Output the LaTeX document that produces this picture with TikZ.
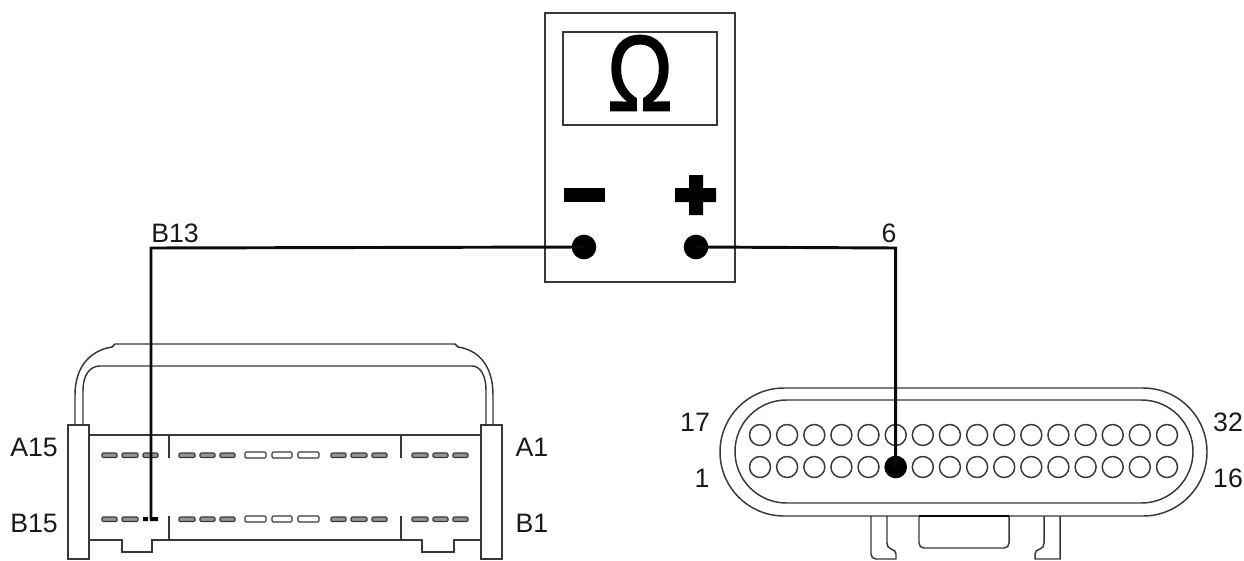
\documentclass[tikz,border=0pt]{standalone}
\usepackage{fontspec}
\setmainfont{Liberation Sans}
\newfontface\omegafont[FakeBold=1.6]{Liberation Sans}
\usepackage{tikz}
\definecolor{wireblk}{rgb}{0.04,0.04,0.04}
\definecolor{outline}{rgb}{0.22,0.22,0.22}
\definecolor{slotgrey}{rgb}{0.58,0.58,0.58}
\tikzset{
  outlineline/.style={color=outline,line width=1.1pt},
  wireline/.style={color=wireblk,line width=2.2pt},
  pinhole/.style={color=outline,line width=1.1pt,fill=white},
  slotnarrow/.style={color=outline,line width=0.8pt,fill=slotgrey,rounded corners=0.8pt},
  slotwide/.style={color=outline,line width=0.8pt,fill=white,rounded corners=0.8pt},
  pinlabel/.style={inner sep=0pt,font=\fontsize{20}{20}\selectfont,color=black!90},
  terminal/.style={circle,fill=black,inner sep=0pt,minimum size=18.5pt},
}

\begin{document}
\begin{tikzpicture}[x=0.75pt,y=0.75pt,yscale=-1,xscale=1]
\useasboundingbox (0,0) rectangle (1244,560);

%Shape: Meter housing
\draw [outlineline] (545,13) -- (735,13) -- (735,282) -- (545,282) -- cycle ;
%Shape: Meter display
\draw [outlineline] (563,32) -- (717,32) -- (717,125) -- (563,125) -- cycle ;
%Shape: Minus sign
\fill [black] (564,188) -- (605,188) -- (605,202) -- (564,202) -- cycle ;
%Shape: Plus sign
\fill [black] (689,175) -- (703,175) -- (703,188) -- (716,188) -- (716,202) -- (703,202) -- (703,215) -- (689,215) -- (689,202) -- (675,202) -- (675,188) -- (689,188) -- cycle ;

% Text Node
\draw (640,73) node (omegasign) [inner sep=0pt,font=\fontsize{66}{66}\omegafont,yscale=1.22] {Ω};

%Shape: Left connector strap
\draw [outlineline] (75,425) -- (75,395) .. controls (75,365) and (92,350) .. (112,347) -- (115,344) -- (455,344) -- (458,347) .. controls (478,350) and (493,365) .. (493,395) -- (493,425) ;
\draw [outlineline] (83,425) -- (83,390) .. controls (83,375) and (90,366) .. (100,366) -- (472,366) .. controls (480,366) and (486,375) .. (486,390) -- (486,425) ;
%Shape: Left connector end brackets
\draw [outlineline] (68,559) -- (68,425) -- (89,425) -- (89,559) -- cycle ;
\draw [outlineline] (481,559) -- (481,425) -- (502,425) -- (502,559) -- cycle ;
%Shape: Left connector body
\draw [outlineline] (89,435) -- (481,435) ;
\draw [outlineline] (89,540) -- (122,540) -- (122,552) -- (152,552) -- (152,540) -- (422,540) -- (422,552) -- (454,552) -- (454,540) -- (481,540) ;
\draw [outlineline] (169,435) -- (169,458) (169,516) -- (169,540) ;
\draw [outlineline] (401,435) -- (401,458) (401,516) -- (401,540) ;
%Shape: Slots row A
\draw [slotnarrow] (102,453) rectangle (117,457.5) (122,453) rectangle (138,457.5) (143,453) rectangle (158,457.5) (179,453) rectangle (195,457.5) (200,453) rectangle (215,457.5) (220,453) rectangle (235,457.5) (331,453) rectangle (346,457.5) (351,453) rectangle (367,457.5) (372,453) rectangle (387,457.5) (412,453) rectangle (428,457.5) (433,453) rectangle (448,457.5) (453,453) rectangle (468,457.5) ;
\draw [slotwide] (245,452) rectangle (266,458) (272,452) rectangle (292,458) (298,452) rectangle (319,458) ;
%Shape: Slots row B
\draw [slotnarrow] (102,517) rectangle (117,521.5) (122,517) rectangle (138,521.5) (179,517) rectangle (195,521.5) (200,517) rectangle (215,521.5) (220,517) rectangle (235,521.5) (331,517) rectangle (346,521.5) (351,517) rectangle (367,521.5) (372,517) rectangle (387,521.5) (412,517) rectangle (428,521.5) (433,517) rectangle (448,521.5) (453,517) rectangle (468,521.5) ;
\draw [slotwide] (245,516) rectangle (266,522) (272,516) rectangle (292,522) (298,516) rectangle (319,522) ;
\fill [black] (143,517) rectangle (148,521) (150,517) rectangle (158,521) ;

%Shape: Right connector shell
\draw [outlineline] (784,388) -- (1143,388) arc (-90:90:64) -- (784,516) arc (90:270:64) -- cycle ;
\draw [outlineline] (786.5,400) -- (1141.5,400) arc (-90:90:51.5) -- (786.5,503) arc (90:270:51.5) -- cycle ;
%Shape: Right connector pin rows
\draw [pinhole] (760,435) circle (10.5) (787.1,435) circle (10.5) (814.3,435) circle (10.5) (841.4,435) circle (10.5) (868.5,435) circle (10.5) (895.7,435) circle (10.5) (922.8,435) circle (10.5) (949.9,435) circle (10.5) (977.1,435) circle (10.5) (1004.2,435) circle (10.5) (1031.3,435) circle (10.5) (1058.4,435) circle (10.5) (1085.6,435) circle (10.5) (1112.7,435) circle (10.5) (1139.8,435) circle (10.5) (1167,435) circle (10.5) ;
\draw [pinhole] (760,467) circle (10.5) (787.1,467) circle (10.5) (814.3,467) circle (10.5) (841.4,467) circle (10.5) (868.5,467) circle (10.5) (922.8,467) circle (10.5) (949.9,467) circle (10.5) (977.1,467) circle (10.5) (1004.2,467) circle (10.5) (1031.3,467) circle (10.5) (1058.4,467) circle (10.5) (1085.6,467) circle (10.5) (1112.7,467) circle (10.5) (1139.8,467) circle (10.5) (1167,467) circle (10.5) ;
%Shape: Right connector latch
\draw [outlineline] (871,516) -- (871,554) .. controls (871,557) and (873,559) .. (876,559) -- (896,559) -- (896,554) .. controls (896,551) and (894,550) .. (891,549) .. controls (888,548) and (887,546) .. (887,543) -- (887,516) ;
\draw [outlineline] (1060,516) -- (1060,559) -- (1035,559) -- (1035,554) .. controls (1035,551) and (1037,550) .. (1040,549) .. controls (1043,548) and (1044,546) .. (1044,543) -- (1044,516) ;
\draw [outlineline] (919,516) -- (919,543) .. controls (919,546) and (921,548) .. (924,548) -- (1004,548) .. controls (1007,548) and (1009,546) .. (1009,543) -- (1009,516) ;
\draw [color=wireblk,line width=1.5pt] (919,516) -- (1009,516) ;

%Shape: Meter terminals and wire ends
\node (minusjack) [terminal] at (584,247) {};
\node (plusjack) [terminal] at (696,247) {};
\node (pinsix) [circle,fill=black,inner sep=0pt,minimum size=17pt] at (895.7,467) {};
\coordinate (slotbthirteen) at (151,519);
\coordinate (minuscorner) at (151,248);
\coordinate (pluscorner) at (895.7,248);

%Straight Lines wires
\draw [wireline] (minusjack.center) -- (minuscorner) -- (slotbthirteen) ;
\draw [wireline] (plusjack.center) -- (pluscorner) -- (pinsix.center) ;

% Text Node
\draw (34,447) node (lblafifteen) [pinlabel] {A15};
% Text Node
\draw (34,523) node (lblbfifteen) [pinlabel] {B15};
% Text Node
\draw (532,447) node (lblaone) [pinlabel] {A1};
% Text Node
\draw (532,523) node (lblbone) [pinlabel] {B1};
% Text Node
\draw (175,233) node (lblbthirteen) [pinlabel] {B13};
% Text Node
\draw (889,233) node (lblsix) [pinlabel] {6};
% Text Node
\draw (695,422) node (lblseventeen) [pinlabel] {17};
% Text Node
\draw (702,478) node (lblonepin) [pinlabel] {1};
% Text Node
\draw (1228,422) node (lblthirtytwo) [pinlabel] {32};
% Text Node
\draw (1228,478) node (lblsixteen) [pinlabel] {16};

\end{tikzpicture}
\end{document}
